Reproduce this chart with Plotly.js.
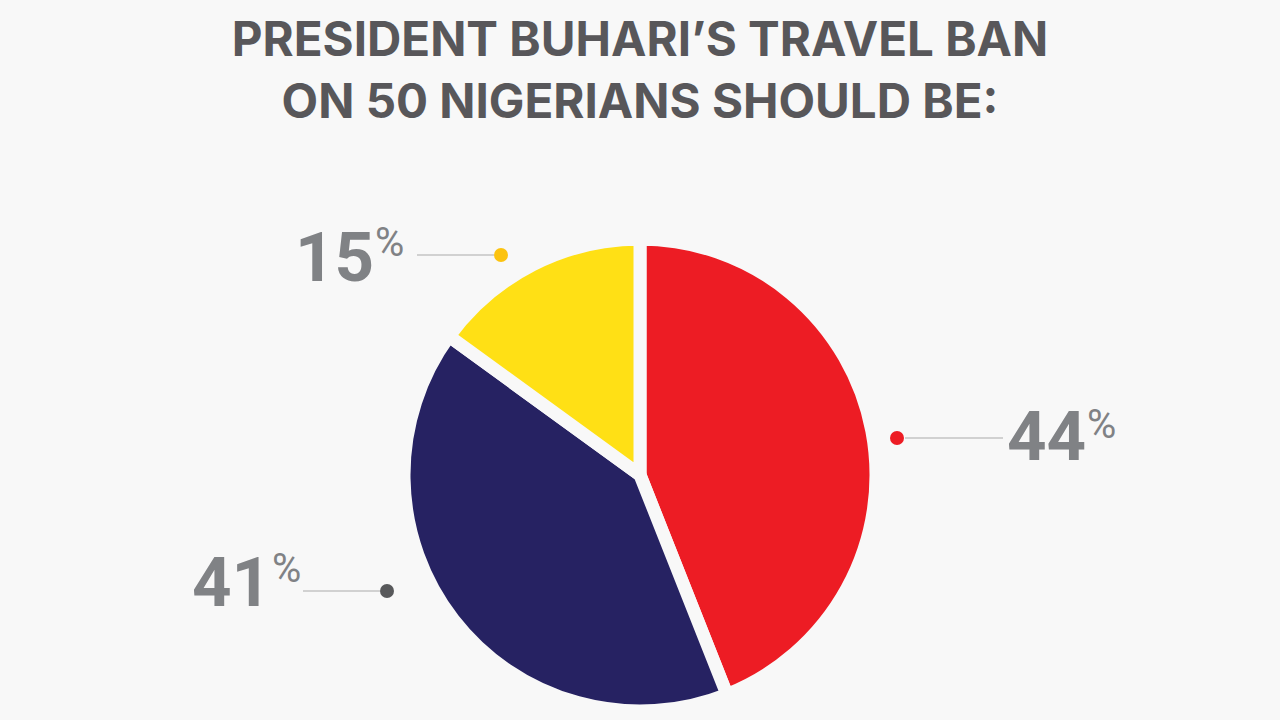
<!DOCTYPE html>
<html>
<head>
<meta charset="utf-8">
<script src="https://cdn.plot.ly/plotly-3.0.1.min.js"></script>
<style>
  html, body { margin: 0; padding: 0; background: #f8f8f8; }
  #chart { width: 1280px; height: 720px; }
</style>
</head>
<body>
<div id="chart"></div>
<script>
// ---- data ----
const categories = ["Lifted", "Maintained", "Extended"];
const values = [44, 41, 15];
const sliceColors = ["#ed1c24", "#262262", "#ffe015"];
const dotColors = ["#ed1c24", "#58595b", "#fcc30f"];
const titleLines = ["PRESIDENT BUHARI\u2019S TRAVEL BAN", "ON 50 NIGERIANS SHOULD BE:"];

// ---- label layout (pixel positions of callouts) ----
const W = 1280, H = 720;
const px = x => x / W;
const py = y => 1 - y / H;
const callouts = [
  // number right edge, number center y, percent center y, dot x/y, leader line from/to x
  { numR: 1085, numY: 437, pctY: 424, dotX: 897, dotY: 438, lineA: 905, lineB: 1003 },
  { numR: 270, numY: 582, pctY: 568, dotX: 387, dotY: 591, lineA: 303, lineB: 380 },
  { numR: 373, numY: 257, pctY: 242, dotX: 501, dotY: 255, lineA: 417, lineB: 494 }
];

const labelFont = "Roboto, 'Open Sans', sans-serif";
const annotations = [];
const shapes = [];
values.forEach((v, i) => {
  const c = callouts[i];
  annotations.push({
    xref: "paper", yref: "paper",
    x: px(c.numR + 1), y: py(c.numY),
    xanchor: "right", yanchor: "middle",
    borderpad: 0, borderwidth: 0,
    text: String(v), showarrow: false,
    font: { family: labelFont, size: 69, color: "#808285", weight: 700 }
  });
  annotations.push({
    xref: "paper", yref: "paper",
    x: px(c.numR + 2), y: py(c.pctY),
    xanchor: "left", yanchor: "middle",
    borderpad: 0, borderwidth: 0,
    text: "%", showarrow: false,
    font: { family: labelFont, size: 40, color: "#808285", weight: 400 }
  });
  shapes.push({
    type: "line", xref: "paper", yref: "paper",
    x0: px(c.lineA), x1: px(c.lineB), y0: py(c.dotY), y1: py(c.dotY),
    line: { color: "#c4c4c4", width: 1.5 }
  });
  shapes.push({
    type: "circle", xref: "paper", yref: "paper",
    x0: px(c.dotX - 7), x1: px(c.dotX + 7), y0: py(c.dotY - 7), y1: py(c.dotY + 7),
    fillcolor: dotColors[i], line: { width: 0 }
  });
});

const trace = {
  type: "pie",
  labels: categories,
  values: values,
  sort: false,
  direction: "clockwise",
  rotation: 0,
  textinfo: "none",
  hoverinfo: "label+percent",
  marker: { colors: sliceColors, line: { color: "#f8f8f8", width: 13 } },
  domain: { x: [px(404), px(876)], y: [py(711), py(239)] }
};

const layout = {
  width: W, height: H,
  paper_bgcolor: "#f8f8f8",
  plot_bgcolor: "#f8f8f8",
  margin: { l: 0, r: 0, t: 0, b: 0 },
  showlegend: false,
  title: {
    text: titleLines.join("<br>"),
    x: 0.5, xanchor: "center",
    y: py(56), yanchor: "top",
    font: { family: "Inter, 'Open Sans', sans-serif", size: 47.5, color: "#58575a", weight: 700 }
  },
  annotations: annotations,
  shapes: shapes
};

Plotly.newPlot("chart", [trace], layout, { displayModeBar: false, staticPlot: true });
</script>
</body>
</html>
